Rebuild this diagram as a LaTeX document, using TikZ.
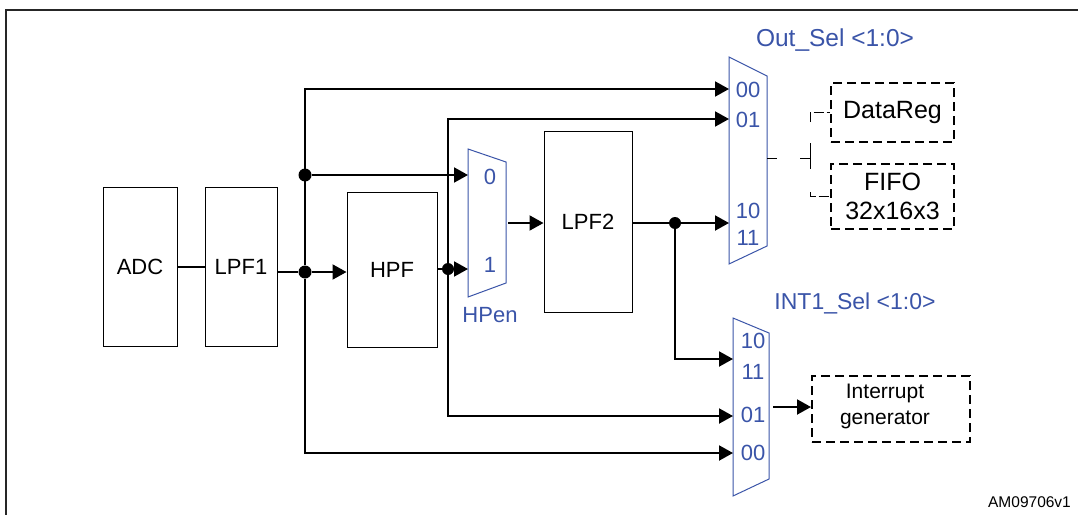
\documentclass[tikz,border=0pt]{standalone}
\usepackage{fontspec}
\setmainfont{Liberation Sans}
\usepackage{tikz}
\usetikzlibrary{arrows.meta}
\definecolor{selblue}{RGB}{58,84,168}

\begin{document}
\begin{tikzpicture}[x=1pt, y=-1pt,
  blk/.style={draw, line width=1pt, inner sep=0pt, font=\fontsize{22}{24}\selectfont},
  dblk/.style={draw, line width=2pt, dash pattern=on 9pt off 5pt, inner sep=0pt, align=center},
  wire/.style={line width=2pt},
  sig/.style={line width=2pt, -{Triangle[length=14pt,width=15pt]}},
  tap/.style={line width=1pt},
  mux/.style={draw=selblue, line width=1pt},
  pin/.style={text=selblue, inner sep=0pt, font=\fontsize{22}{24}\selectfont},
  dot/.style={circle, fill, inner sep=0pt, minimum size=13pt}]
\useasboundingbox (0,0) rectangle (1078,514);
\draw[line width=2pt, black!85] (6,530) -- (6,10) -- (1090,10);

\node[blk, minimum width=74pt, minimum height=159pt] (ADC) at (140,266.5) {ADC};
\node[blk, minimum width=72pt, minimum height=159pt] (LPF1) at (241,266.5) {LPF1};
\node[blk, minimum width=90pt, minimum height=155pt] (HPF) at (392,269.5) {HPF};
\node[blk, minimum width=88pt, minimum height=181pt] (LPF2) at (588,221.5) {LPF2};
\node[dblk, minimum width=123pt, minimum height=59pt, font=\fontsize{25}{29}\selectfont] (DataReg) at (892.5,112.5) {DataReg};
\node[dblk, minimum width=123pt, minimum height=65pt, font=\fontsize{25}{29}\selectfont] (FIFO) at (892.5,196.5) {FIFO\\32x16x3};
\node[dblk, minimum width=158pt, minimum height=66pt] (IntGen) at (891,409) {};
\node[align=center, inner sep=0pt, font=\fontsize{21}{26}\selectfont] (IntTxt) at (885,406) {Interrupt\\generator};

\draw[mux] (468,149) -- (506,162) -- (506,283) -- (468,297) -- cycle;
\draw[mux] (729,57) -- (767,76) -- (767,246) -- (729,264) -- cycle;
\draw[mux] (733,318) -- (769,333) -- (769,479) -- (733,496) -- cycle;

\node[pin] (hpL0) at (490,177) {0};
\node[pin] (hpL1) at (490,265) {1};
\node[pin] (hpen) at (490,315) {HPen};
\node[pin] (oL00) at (748,90) {00};
\node[pin] (oL01) at (748,120) {01};
\node[pin] (oL10) at (748,211) {10};
\node[pin] (oL11) at (748,238) {11};
\node[pin] (iL10) at (753,341) {10};
\node[pin] (iL11) at (753,372) {11};
\node[pin] (iL01) at (753,415) {01};
\node[pin] (iL00) at (753,453) {00};
\node[pin, font=\fontsize{24.5}{27}\selectfont] (outsel) at (835,40) {Out\_Sel <1:0>};
\node[pin, font=\fontsize{23}{26}\selectfont] (intsel) at (855,303) {INT1\_Sel <1:0>};
\node[inner sep=0pt, font=\fontsize{15.5}{18}\selectfont] (code) at (1029.5,502) {AM09706v1};

\coordinate (hp0) at (468,175);
\coordinate (hp1) at (468,269);
\coordinate (hpQ) at (508,223);
\coordinate (out00) at (729,89);
\coordinate (out01) at (729,119);
\coordinate (out10) at (729,223);
\coordinate (outQ) at (767,158);
\coordinate (int11) at (733,359);
\coordinate (int01) at (733,416);
\coordinate (int00) at (733,453);
\coordinate (intQ) at (773,407);
\coordinate (fork) at (810,158);

\node[dot] (dA) at (305,272) {};
\node[dot] (dB) at (305,175) {};
\node[dot, minimum size=12pt] (dC) at (448,269) {};
\node[dot, minimum size=12pt] (dD) at (675,223) {};

\draw[wire] (ADC) -- (LPF1);
\draw[wire] (LPF1.east |- dA) -- (dA);
\draw[sig] (dA) -- (HPF.west |- dA);
\draw[sig] (dA) |- (out00);
\draw[sig] (dA) |- (int00);
\draw[sig] (dB) -- (hp0);
\draw[wire] (HPF.east |- dC) -- (dC);
\draw[sig] (dC) -- (hp1);
\draw[sig] (dC) |- (out01);
\draw[sig] (dC) |- (int01);
\draw[sig] (hpQ) -- (LPF2.west |- hpQ);
\draw[wire] (LPF2.east |- dD) -- (dD);
\draw[sig] (dD) -- (out10);
\draw[sig] (dD) |- (int11);
\draw[sig] (intQ) -- (IntGen.west |- intQ);

\draw[tap, dash pattern=on 10pt off 23pt] (outQ) -- (fork);
\draw[tap] ([yshift=15pt]fork) -- ([yshift=-11pt]fork);
\draw[tap, dash pattern=on 10pt off 3pt] ([yshift=36pt]fork) |- (DataReg.west);
\draw[tap, dash pattern=on 10pt off 3pt] ([yshift=-34pt]fork) |- (FIFO.west);
\end{tikzpicture}
\end{document}
